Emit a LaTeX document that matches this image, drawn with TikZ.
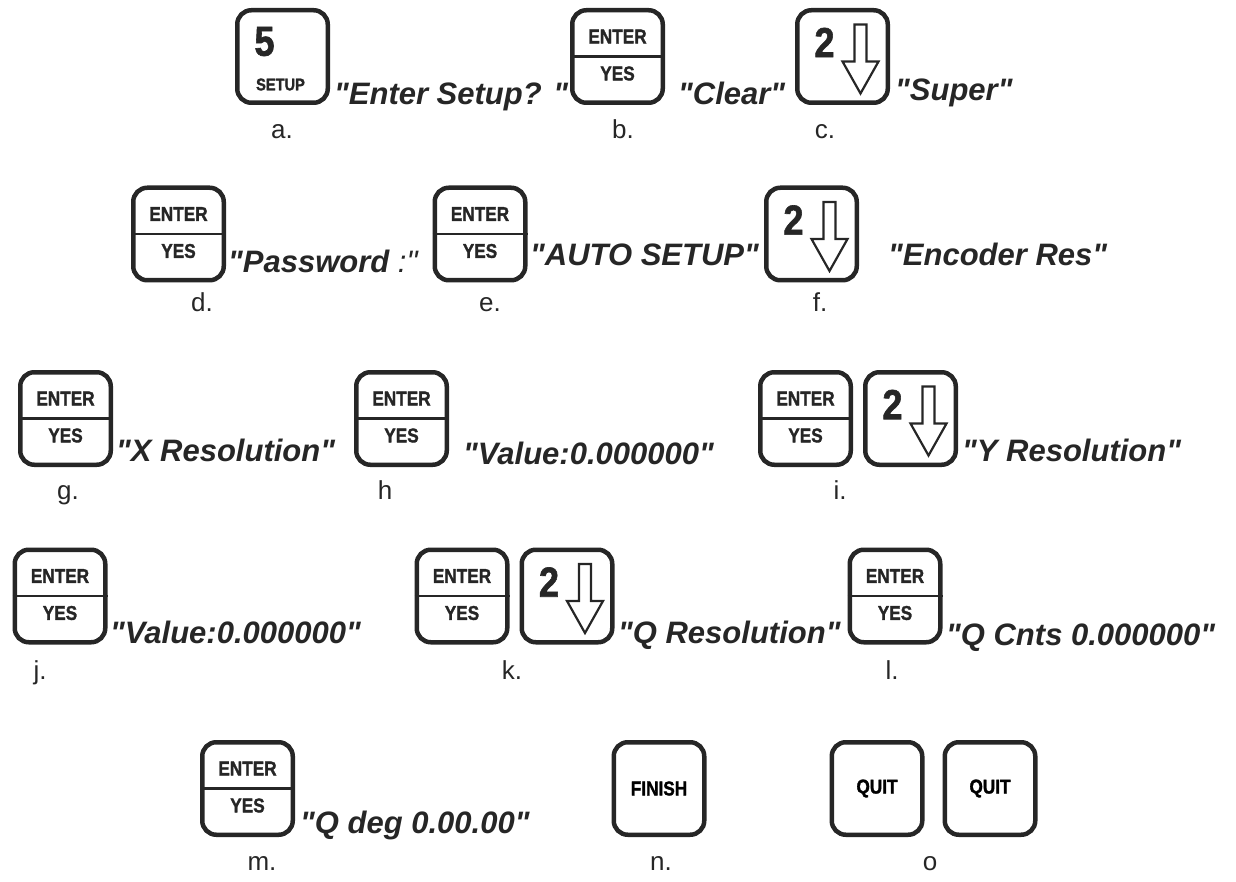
\documentclass[tikz,border=0pt]{standalone}
\usepackage{graphicx}
\usepackage{fontspec}
\setmainfont{Liberation Sans}[Ligatures=TeXOff]
\newfontfamily\keyfont{Liberation Sans}[Ligatures=TeXOff, BoldFeatures={FakeBold=1.6}]
\newcommand\kt[2]{{\fontsize{#1}{#1}\selectfont\keyfont\bfseries\scalebox{0.86}[1]{#2}}}
\begin{document}
\begin{tikzpicture}[x=1pt,y=-1pt,
  key/.style={draw=black!85, line width=4.5pt, rounded corners=14pt, minimum width=90.5pt, minimum height=92.5pt, inner sep=0pt},
  divider/.style={draw=black!85, line width=2.5pt},
  ktxt/.style={inner sep=0pt, text=black!85},
  arrowline/.style={draw=black!85, line width=2.2pt, line join=miter},
  msg/.style={anchor=base west, inner sep=0pt, font=\fontsize{31}{31}\selectfont\bfseries\itshape, text=black!85},
  lbl/.style={anchor=base, inner sep=0pt, font=\fontsize{26}{26}\selectfont, text=black!85}
]
\useasboundingbox (0,0) rectangle (1236,882);

\newcommand\enterkey[3]{%
  \node[key] (#1) at (#2,#3) {};
  \draw[divider] (#1.west) -- (#1.east);
  \node[ktxt] (#1-t) at ([yshift=20pt]#1.center) {\kt{20}{ENTER}};
  \node[ktxt] (#1-b) at ([yshift=-17pt]#1.center) {\kt{20}{YES}};
}
\newcommand\downkey[3]{%
  \node[key] (#1) at (#2,#3) {};
  \node[ktxt] (#1-n) at ([shift={(-18pt,14pt)}]#1.center) {\kt{42}{2}};
  \draw[arrowline] ([shift={(12pt,32pt)}]#1.center) -- ([shift={(12pt,-5pt)}]#1.center)
    -- ([shift={(0pt,-5pt)}]#1.center) -- ([shift={(18pt,-37pt)}]#1.center)
    -- ([shift={(36pt,-5pt)}]#1.center) -- ([shift={(24pt,-5pt)}]#1.center)
    -- ([shift={(24pt,32pt)}]#1.center) -- cycle;
}

% Row 1
\node[key] (a) at (282.5,56.5) {};
\node[ktxt] (a-n) at ([shift={(-18pt,15pt)}]a.center) {\kt{42}{5}};
\node[ktxt] (a-t) at ([shift={(-2pt,-28pt)}]a.center) {\kt{17}{SETUP}};
\node[msg] (ta) at (334,105) {"Enter Setup? "};
\enterkey{b}{617.5}{56.5}
\node[msg] (tb) at (678,105) {"Clear"};
\downkey{c}{842.5}{56.5}
\node[msg] (tc) at (895,101) {"Super"};
\node[lbl] (la) at (282,139) {a.};
\node[lbl] (lb) at (623,139) {b.};
\node[lbl] (lc) at (825,139) {c.};

% Row 2
\enterkey{d}{178.5}{234}
\node[msg] (td) at (228,273) {"Password{\mdseries\ :"}};
\enterkey{e}{480}{234}
\node[msg] (te) at (530,266) {"AUTO SETUP"};
\downkey{f}{811.5}{234}
\node[msg] (tf) at (888,266) {"Encoder Res"};
\node[lbl] (ld) at (202,312) {d.};
\node[lbl] (le) at (490,312) {e.};
\node[lbl] (lf) at (820,312) {f.};

% Row 3
\enterkey{g}{65.5}{418.5}
\node[msg] (tg) at (116,461) {"X Resolution"};
\enterkey{h}{401.5}{418.5}
\node[msg] (th) at (463,464) {"Value:0.000000"};
\enterkey{i1}{805.5}{418.5}
\downkey{i2}{910.5}{418.5}
\node[msg] (ti) at (962,461) {"Y Resolution"};
\node[lbl] (lg) at (68,499) {g.};
\node[lbl] (lh) at (385,499) {h};
\node[lbl] (li) at (840,499) {i.};

% Row 4
\enterkey{j}{60}{596}
\node[msg] (tj) at (110,643) {"Value:0.000000"};
\enterkey{k1}{462}{596}
\downkey{k2}{567}{596}
\node[msg] (tk) at (618,643) {"Q Resolution"};
\enterkey{l}{895}{596}
\node[msg] (tl) at (946,645) {"Q Cnts 0.000000"};
\node[lbl] (lj) at (40,679) {j.};
\node[lbl] (lk) at (512,679) {k.};
\node[lbl] (ll) at (892,679) {l.};

% Row 5
\enterkey{m}{247.5}{788.5}
\node[msg] (tm) at (300,833) {"Q deg 0.00.00"};
\node[key] (n) at (659,788.5) {\kt{20}{FINISH}};
\node[key] (o1) at (877,788.5) {\kt{20}{QUIT}};
\node[key] (o2) at (990,788.5) {\kt{20}{QUIT}};
\node[lbl] (lm) at (262,870) {m.};
\node[lbl] (ln) at (661,870) {n.};
\node[lbl] (lo) at (930,870) {o};
\end{tikzpicture}
\end{document}
